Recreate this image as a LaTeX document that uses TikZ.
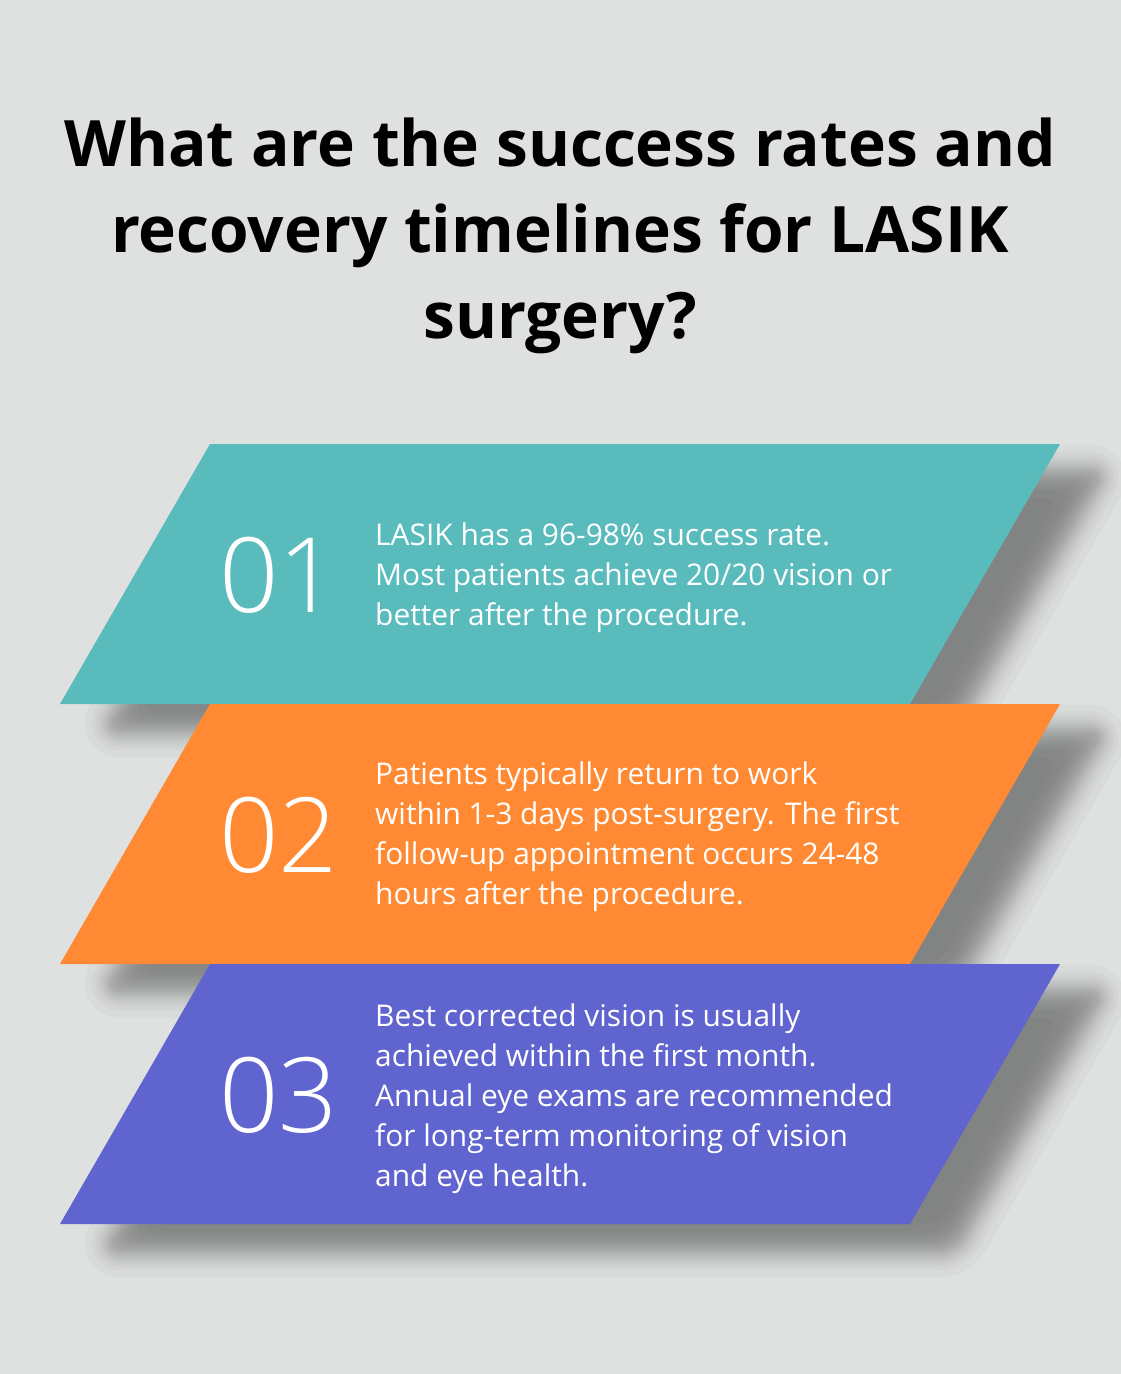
\documentclass[tikz,border=0pt]{standalone}
\usepackage{fontspec}
\setmainfont{Open Sans}
\newfontfamily\numfont{Open Sans Light}
\definecolor{bg}{HTML}{DFE1E0}
\definecolor{teal1}{HTML}{5ABBBD}
\definecolor{orange1}{HTML}{FF8A33}
\definecolor{purple1}{HTML}{6064CE}
\newcommand\bandshadow[1]{%
  \foreach \d in {-26.5,-19.4,-15.5,-12.6,-10.2,-8.1,-6.1,-4.3,-2.55,-0.85}{%
    \fill[shadowlayer, rounded corners=16pt] ({255-0.5778*\d},{#1+27-\d}) -- ({1105+1.7316*\d},{#1+27-\d}) -- ({955+0.5778*\d},{#1+287+\d}) -- ({105-1.7316*\d},{#1+287+\d}) -- cycle;}%
  \foreach \d in {0.85,2.55,4.3,6.1,8.1,10.2,12.6,15.5,19.4,26.5}{%
    \begin{scope}[transparency group, opacity=0.0221]
      \filldraw[black, line width=2*\d pt, line join=round, rounded corners=16pt] (255,{#1+27}) -- (1105,{#1+27}) -- (955,{#1+287}) -- (105,{#1+287}) -- cycle;
    \end{scope}}}
\begin{document}
\begin{tikzpicture}[x=1pt,y=-1pt]
\tikzset{
  num/.style={text=white, font=\numfont\fontsize{104}{104}\selectfont, anchor=west, inner sep=0pt},
  body/.style={text=white, font=\fontsize{29.9}{40}\selectfont, anchor=west, align=left, inner sep=0pt},
  title/.style={text=black, font=\bfseries\fontsize{64}{86}\selectfont, align=center, inner sep=0pt},
  shadowlayer/.style={fill=black, fill opacity=0.0221}
}
\useasboundingbox (0,0) rectangle (1120,1374);
\fill[bg] (-5,-5) rectangle (1125,1379);
\node[title] (title) at (560,236) {What are the success rates and\\recovery timelines for LASIK\\surgery?};
\bandshadow{444}
\fill[teal1] (210,444) -- (1060,444) -- (910,704) -- (60,704) -- cycle;
\bandshadow{704}
\fill[orange1] (210,704) -- (1060,704) -- (910,964) -- (60,964) -- cycle;
\bandshadow{964}
\fill[purple1] (210,964) -- (1060,964) -- (910,1224) -- (60,1224) -- cycle;
\node[num] (n1) at (219,575) {01};
\node[num] (n2) at (219,835) {02};
\node[num] (n3) at (219,1095) {03};
\node[body] (t1) at (375,578) {LASIK has a 96-98\% success rate.\\Most patients achieve 20/20 vision or\\better after the procedure.};
\node[body] (t2) at (375,837) {Patients typically return to work\\within 1-3 days post-surgery. The first\\follow-up appointment occurs 24-48\\hours after the procedure.};
\node[body] (t3) at (375,1099) {Best corrected vision is usually\\achieved within the first month.\\Annual eye exams are recommended\\for long-term monitoring of vision\\and eye health.};
\end{tikzpicture}
\end{document}
